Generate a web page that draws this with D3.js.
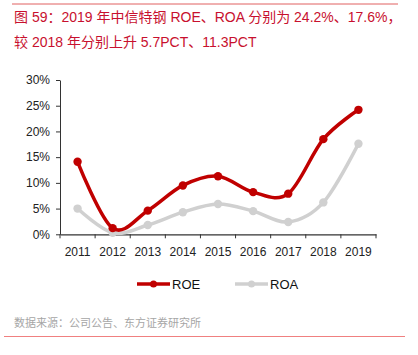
<!DOCTYPE html>
<html><head><meta charset="utf-8">
<script src="https://cdn.jsdelivr.net/npm/d3@7"></script>
<style>body{margin:0;background:#fff}svg{display:block}</style>
</head><body>
<script>
const years = ["2011","2012","2013","2014","2015","2016","2017","2018","2019"];
const roe = [14.1, 1.2, 4.6, 9.5, 11.3, 8.2, 7.9, 18.5, 24.2];
const roa = [5.0, 0.3, 1.8, 4.3, 5.9, 4.5, 2.4, 6.2, 17.6];
const yTicks = [0, 5, 10, 15, 20, 25, 30];
const seriesNames = ["ROE", "ROA"];
const colors = ["#c00000", "#d0d0d0"];

const W = 418, H = 355;
const svg = d3.select("body").append("svg").attr("width", W).attr("height", H);
const font = "'Liberation Sans', Arial, 'Noto Sans CJK SC', sans-serif";

svg.append("line").attr("x1", 12).attr("x2", 398).attr("y1", 4).attr("y2", 4)
  .attr("stroke", "#e06060").attr("stroke-width", 1);
const title = svg.append("text").attr("font-family", font).attr("font-size", 14).attr("fill", "#c8102e");
title.append("tspan").attr("x", 14).attr("y", 22).text("图 59：2019 年中信特钢 ROE、ROA 分别为 24.2%、17.6%，");
title.append("tspan").attr("x", 14).attr("y", 47).text("较 2018 年分别上升 5.7PCT、11.3PCT");

const x = d3.scaleBand().domain(years).range([60, 376]);
const y = d3.scaleLinear().domain([0, 30]).range([234.3, 80]);

const gy = svg.append("g").attr("transform", "translate(60,0)")
  .call(d3.axisLeft(y).tickValues(yTicks).tickFormat(d => d + "%").tickSize(4).tickSizeOuter(0));
gy.select(".domain").attr("stroke", "#333");
gy.selectAll(".tick line").attr("stroke", "#333");
gy.selectAll("text").attr("font-family", font).attr("font-size", 12).attr("fill", "#222").attr("x", -10);

const gx = svg.append("g").attr("transform", "translate(0,234.3)")
  .call(d3.axisBottom(x).tickSize(0).tickSizeOuter(0));
gx.select(".domain").attr("stroke", "#333").attr("stroke-width", 1.2);
gx.selectAll(".tick line").remove();
gx.selectAll("text").attr("font-family", font).attr("font-size", 12).attr("fill", "#222").attr("dy", "1.6em");
// band boundary ticks
gx.selectAll(".bt").data(years.concat(["end"])).enter().append("line")
  .attr("x1", (d, i) => 60 + i * x.bandwidth()).attr("x2", (d, i) => 60 + i * x.bandwidth())
  .attr("y1", 0).attr("y2", 4).attr("stroke", "#333");

const line = d3.line().x((d, i) => x(years[i]) + x.bandwidth() / 2).y(d => y(d))
  .curve(d3.curveCardinal.tension(0));

[roa, roe].forEach((vals, k) => {
  const c = k === 0 ? colors[1] : colors[0];
  svg.append("path").datum(vals).attr("d", line).attr("fill", "none")
    .attr("stroke", c).attr("stroke-width", 3.5).attr("stroke-linecap", "round");
  svg.selectAll(null).data(vals).enter().append("circle")
    .attr("cx", (d, i) => x(years[i]) + x.bandwidth() / 2).attr("cy", d => y(d))
    .attr("r", 4.2).attr("fill", c);
});

// legend
const leg = [{n: seriesNames[0], c: colors[0], x: 137}, {n: seriesNames[1], c: colors[1], x: 235}];
leg.forEach(l => {
  svg.append("line").attr("x1", l.x).attr("x2", l.x + 33).attr("y1", 284).attr("y2", 284)
    .attr("stroke", l.c).attr("stroke-width", 3.5);
  svg.append("circle").attr("cx", l.x + 16.5).attr("cy", 284).attr("r", 3.5).attr("fill", l.c);
  svg.append("text").attr("x", l.x + 35).attr("y", 289).attr("font-family", font)
    .attr("font-size", 13).attr("fill", "#111").text(l.n);
});

svg.append("text").attr("x", 14).attr("y", 327).attr("font-family", font).attr("font-size", 11)
  .attr("fill", "#a6a6a6").text("数据来源：公司公告、东方证券研究所");
svg.append("line").attr("x1", 4).attr("x2", 405).attr("y1", 336.5).attr("y2", 336.5)
  .attr("stroke", "#f08080").attr("stroke-width", 1.2);
</script>
</body></html>
